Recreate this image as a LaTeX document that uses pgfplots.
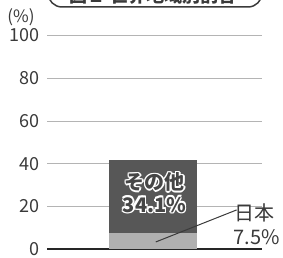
\documentclass[border=0pt]{standalone}
\usepackage{pgfplots}
\pgfplotsset{compat=1.18}
\usepackage{fontspec}
\setmainfont{Noto Sans CJK JP}
\definecolor{darkbar}{HTML}{575757}
\definecolor{lightbar}{HTML}{B0B0B0}
\definecolor{txt}{HTML}{3A3A3A}
\definecolor{gridc}{HTML}{B4B4B4}
\newcommand{\halo}[2]{%
  \foreach \dx/\dy in {1.5/0,-1.5/0,0/1.5,0/-1.5,1.1/1.1,-1.1/1.1,1.1/-1.1,-1.1/-1.1}{%
    \node[text=white, font=\fontsize{20}{22}\selectfont\bfseries, align=center, inner sep=0] at ([xshift=\dx pt, yshift=\dy pt]#1) {#2};}%
  \node[text=darkbar!80!black, font=\fontsize{20}{22}\selectfont\bfseries, align=center, inner sep=0] at (#1) {#2};}
\begin{document}
\begin{tikzpicture}[x=1pt,y=1pt]
\clip (0,0) rectangle (283,257);
\draw[line width=1.5pt, color=txt, rounded corners=14pt, fill=white] (48,250) rectangle (262,290);
\node[anchor=base, font=\fontsize{18}{20}\selectfont\bfseries, color=txt] at (153,254.5) {図２ 世界地域別割合};
\node[font=\fontsize{17}{19}\selectfont, color=txt] at (21,240) {(\%)};
\begin{axis}[
  at={(47pt,8pt)}, anchor=south west,
  scale only axis, width=215pt, height=213.5pt,
  xmin=0, xmax=1, ymin=0, ymax=100,
  axis line style={draw=none},
  xtick=\empty,
  ytick={0,20,40,60,80,100},
  ymajorgrids, grid style={gridc, line width=0.8pt},
  major tick length=0pt,
  /pgf/number format/assume math mode=true,
  yticklabel style={font=\fontsize{18}{20}\selectfont, color=txt, anchor=east, xshift=-4pt},
  ybar stacked, bar width=88pt,
  clip=false,
]
\addplot[fill=lightbar, draw=none] coordinates {(0.495,7.5)};
\addplot[fill=darkbar, draw=none] coordinates {(0.495,34.1)};
\draw[line width=2.2pt, color=black!85] (axis cs:0,0) -- (axis cs:1,0);
\coordinate (L1) at (axis cs:0.506,3.3);
\coordinate (L2) at (axis cs:0.882,18.3);
\coordinate (A) at (axis cs:0.5,31.3);
\coordinate (B) at (axis cs:0.5,20.8);
\coordinate (J) at (axis cs:0.963,16.9);
\coordinate (P) at (axis cs:0.975,5.6);
\end{axis}
\draw[line width=1pt, color=txt] (L1) -- (L2);
\node[font=\fontsize{20}{22}\selectfont, color=txt, inner sep=0pt] at (J) {日本};
\node[font=\fontsize{20}{22}\selectfont, color=txt, inner sep=0pt] at (P) {7.5\%};
\halo{A}{その他}
\halo{B}{34.1\%}
\end{tikzpicture}
\end{document}
